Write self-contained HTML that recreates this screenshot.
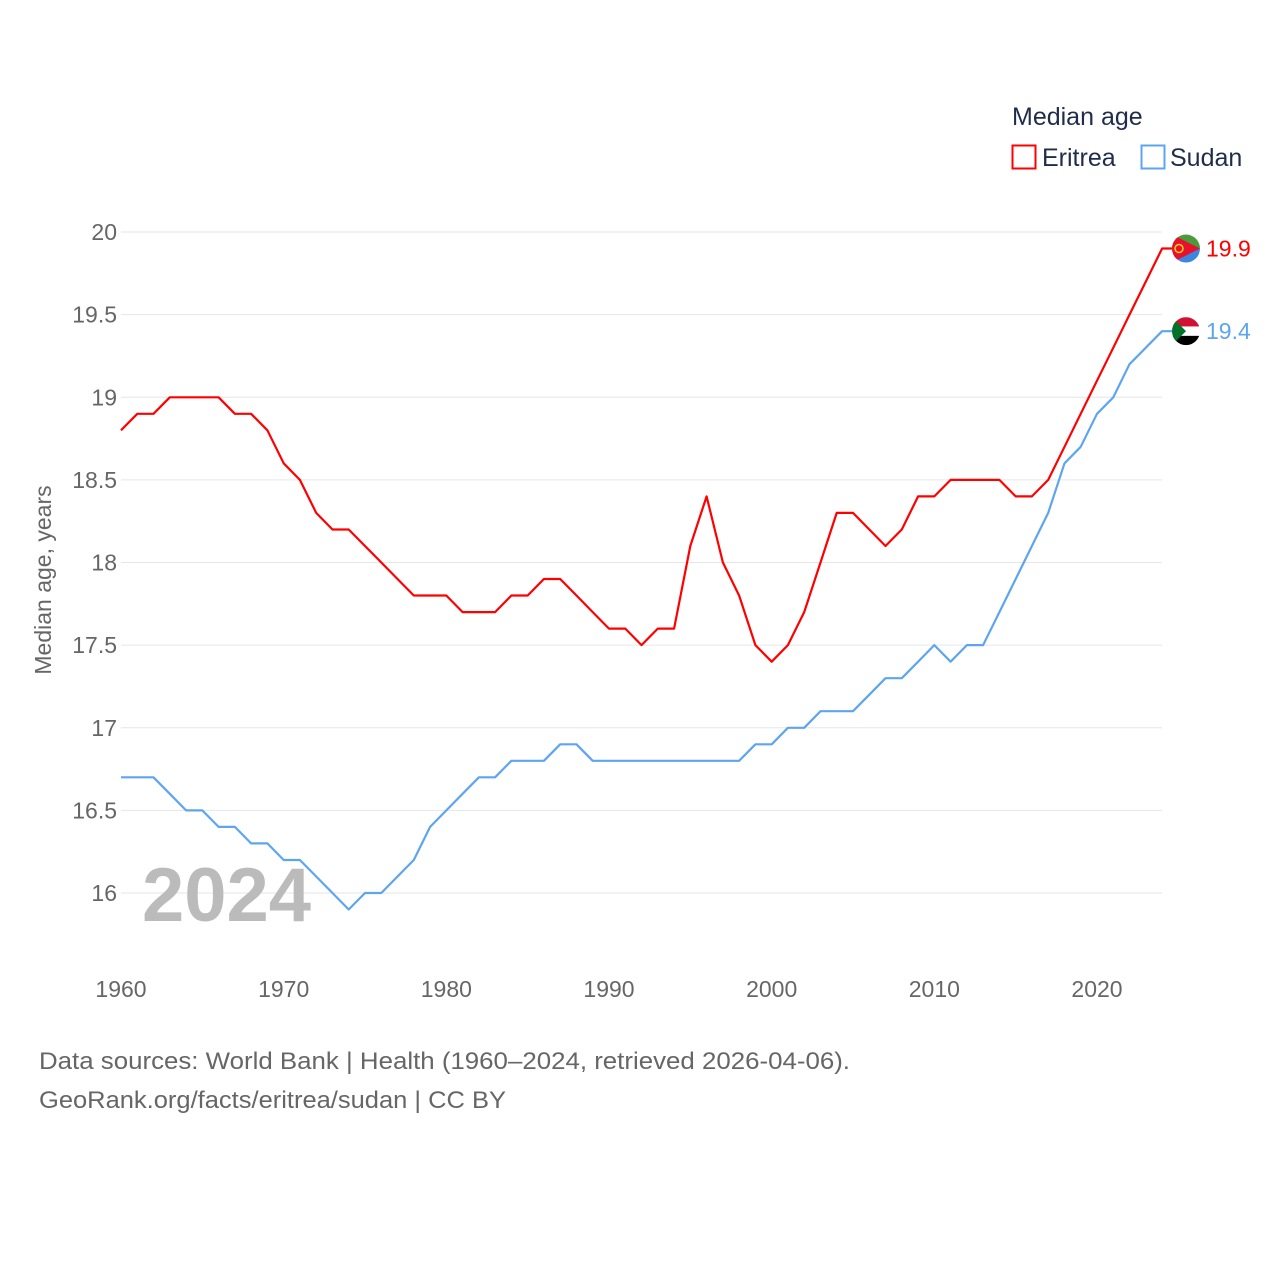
<!DOCTYPE html>
<html><head><meta charset="utf-8"><style>
body{margin:0;background:#fff;font-family:"Liberation Sans",sans-serif}
svg text{font-family:"Liberation Sans",sans-serif}
</style></head><body>
<svg id="chart" width="1280" height="1280" viewBox="0 0 1280 1280" xmlns="http://www.w3.org/2000/svg">
<g id="grid"></g>
<g id="yticks"></g>
<g id="xticks"></g>
<text transform="translate(51,580) rotate(-90)" text-anchor="middle" font-size="23" fill="#666">Median age, years</text>
<text x="142" y="921" font-size="76" font-weight="bold" fill="#bbb">2024</text>
<g id="series"></g>
<g>
<text x="1012" y="125" font-size="25" fill="#1f2d4a">Median age</text>
<rect x="1012.5" y="145.5" width="23" height="23" fill="none" stroke="#f00" stroke-width="2"/>
<text x="1042" y="166" font-size="25" fill="#1f2d4a">Eritrea</text>
<rect x="1141.5" y="145.5" width="23" height="23" fill="none" stroke="#5ea5ef" stroke-width="2"/>
<text x="1170" y="166" font-size="25" fill="#1f2d4a">Sudan</text>
</g>
<g>
<text x="39" y="1069" font-size="24" fill="#666" textLength="811" lengthAdjust="spacingAndGlyphs">Data sources: World Bank | Health (1960–2024, retrieved 2026-04-06).</text>
<text x="39" y="1108" font-size="24" fill="#666" textLength="467" lengthAdjust="spacingAndGlyphs">GeoRank.org/facts/eritrea/sudan | CC BY</text>
</g>
</svg>
<script>
const years=[];for(let y=1960;y<=2024;y++)years.push(y);
const eritrea=[18.8,18.9,18.9,19.0,19.0,19.0,19.0,18.9,18.9,18.8,18.6,18.5,18.3,18.2,18.2,18.1,18.0,17.9,17.8,17.8,17.8,17.7,17.7,17.7,17.8,17.8,17.9,17.9,17.8,17.7,17.6,17.6,17.5,17.6,17.6,18.1,18.4,18.0,17.8,17.5,17.4,17.5,17.7,18.0,18.3,18.3,18.2,18.1,18.2,18.4,18.4,18.5,18.5,18.5,18.5,18.4,18.4,18.5,18.7,18.9,19.1,19.3,19.5,19.7,19.9];
const sudan=[16.7,16.7,16.7,16.6,16.5,16.5,16.4,16.4,16.3,16.3,16.2,16.2,16.1,16.0,15.9,16.0,16.0,16.1,16.2,16.4,16.5,16.6,16.7,16.7,16.8,16.8,16.8,16.9,16.9,16.8,16.8,16.8,16.8,16.8,16.8,16.8,16.8,16.8,16.8,16.9,16.9,17.0,17.0,17.1,17.1,17.1,17.2,17.3,17.3,17.4,17.5,17.4,17.5,17.5,17.7,17.9,18.1,18.3,18.6,18.7,18.9,19.0,19.2,19.3,19.4];
const yTicks=[16,16.5,17,17.5,18,18.5,19,19.5,20];
const xTicks=[1960,1970,1980,1990,2000,2010,2020];
const NS='http://www.w3.org/2000/svg';
const x=v=>121+(v-1960)*(976/60);
const y=v=>893-(v-16)*(661/4);
function mk(tag,attrs,parent,txt){const e=document.createElementNS(NS,tag);for(const k in attrs)e.setAttribute(k,attrs[k]);if(txt!=null)e.textContent=txt;parent.appendChild(e);return e;}
const grid=document.getElementById('grid'),yt=document.getElementById('yticks'),xt=document.getElementById('xticks'),ser=document.getElementById('series');
yTicks.forEach(t=>{
 const l=mk('line',{x1:121,x2:1162,y1:y(t),y2:y(t),stroke:'#e6e6e6','stroke-width':1},grid);
 
 
 const tx=mk('text',{x:117,y:y(t)+8,'text-anchor':'end','font-size':23,fill:'#666'},yt,String(t));
 
 
});
xTicks.forEach(t=>{
 const tx=mk('text',{x:x(t),y:997,'text-anchor':'middle','font-size':23,fill:'#666'},xt,String(t));
 
 
});
function drawLine(vals,color,name){
 const d=vals.map((v,i)=>(i?'L':'M')+x(years[i]).toFixed(1)+','+y(v).toFixed(1)).join('')+'h10';
 const p=mk('path',{d:d,fill:'none',stroke:color,'stroke-width':2.2,'stroke-linejoin':'round'},ser);
 
 
 const last=vals[vals.length-1];
 const lb=mk('text',{x:1206,y:y(last)+8,'font-size':23,fill:color},ser,String(last));
 
 
 return y(last);
}
const ye=drawLine(eritrea,'#f00','eritrea');
const ys=drawLine(sudan,'#5ea5ef','sudan');
const fe=mk('g',{transform:`translate(1186,${ye})`},ser);


fe.innerHTML='<clipPath id="ce"><circle r="14"/></clipPath><g clip-path="url(#ce)"><rect x="-14" y="-14" width="28" height="14" fill="#4c9a3c"/><rect x="-14" y="0" width="28" height="14" fill="#3a86e0"/><polygon points="-14,-14 14,0 -14,14" fill="#e8112d"/><circle cx="-7" cy="0" r="4" fill="none" stroke="#f7d11d" stroke-width="1.5"/></g>';
const fs=mk('g',{transform:`translate(1186,${ys})`},ser);


fs.innerHTML='<clipPath id="cs"><circle r="14"/></clipPath><g clip-path="url(#cs)"><rect x="-14" y="-14" width="28" height="9.4" fill="#d21034"/><rect x="-14" y="-4.7" width="28" height="9.4" fill="#fff"/><rect x="-14" y="4.7" width="28" height="9.4" fill="#000"/><polygon points="-14,-14 0,0 -14,14" fill="#007229"/></g>';
</script>
</body></html>
